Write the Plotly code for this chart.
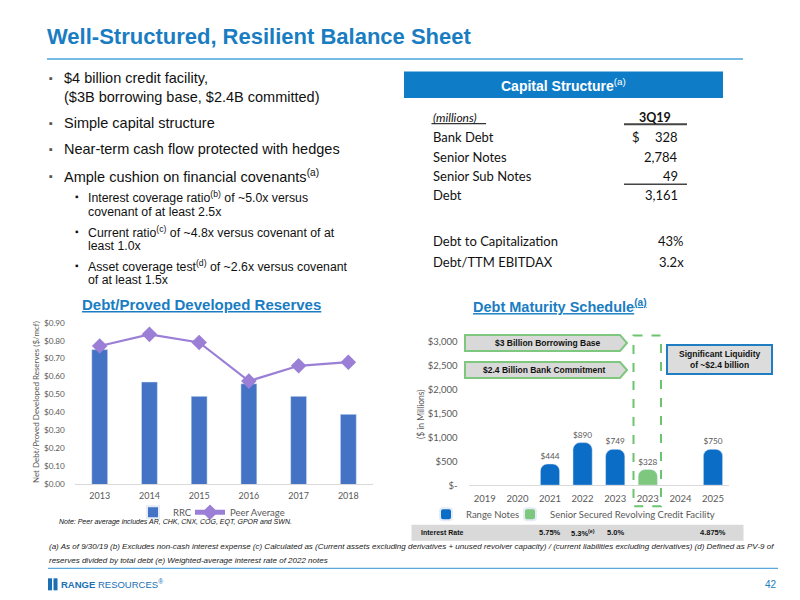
import plotly.graph_objects as go

# ---------------- data ----------------
years_left = ["2013", "2014", "2015", "2016", "2017", "2018"]
rrc_values = [0.75, 0.57, 0.49, 0.56, 0.49, 0.39]
peer_average = [0.77, 0.835, 0.79, 0.575, 0.66, 0.68]

maturity_labels = ["2019", "2020", "2021", "2022", "2023", "2023", "2024", "2025"]
range_notes = [None, None, 444, 890, 749, None, None, 750]
revolver = [None, None, None, None, None, 328, None, None]
interest_rates = ["", "", "5.75%", "5.3%<sup>(e)</sup>", "5.0%", "", "", "4.875%"]
right_tick_vals = [0, 500, 1000, 1500, 2000, 2500, 3000]
right_tick_text = ["$-", "$500", "$1,000", "$1,500", "$2,000", "$2,500", "$3,000"]

cap_labels = ["Bank Debt", "Senior Notes", "Senior Sub Notes", "Debt"]
cap_values = ["328", "2,784", "49", "3,161"]
ratio_labels = ["Debt to Capitalization", "Debt/TTM EBITDAX"]
ratio_values = ["43%", "3.2x"]

# page placement correction (figure sits inside page margins)
OFF = 8
W, H = 792, 592
VT, VK = 13.5, 0.98
def X(px):
    return (px - OFF) / W
def Y(py):
    return 1 - ((py - VT) / VK) / H

BLUE = "#1A7DC2"
GRAY = "#595959"
CAL = "Lato, 'Open Sans', sans-serif"
ARI = "Arial, 'Liberation Sans', sans-serif"
NAR = "'Liberation Sans Narrow', 'Arial Narrow', Arial, sans-serif"

fig = go.Figure()

# ---------------- left chart ----------------
fig.add_trace(go.Bar(x=years_left, y=rrc_values, name="RRC", marker_color="#4472C4",
                     width=0.32, xaxis="x", yaxis="y", legend="legend"))
fig.add_trace(go.Scatter(x=years_left, y=peer_average, name="Peer Average", mode="lines+markers",
                         line=dict(color="#9B7FD6", width=2.2),
                         marker=dict(symbol="diamond", size=12, color="#9B7FD6"),
                         xaxis="x", yaxis="y", legend="legend3"))

# ---------------- right chart ----------------
rn_x = [i for i, v in enumerate(range_notes) if v is not None]
rn_y = [v for v in range_notes if v is not None]
rv_x = [i for i, v in enumerate(revolver) if v is not None]
rv_y = [v for v in revolver if v is not None]
fig.add_trace(go.Bar(x=rn_x, y=rn_y, name="Range Notes", marker_color="#0B6DC6",
                     marker_cornerradius=7, width=0.59,
                     texttemplate="$%{y:,}", textposition="outside",
                     textfont=dict(family=CAL, size=8.5, color=GRAY), cliponaxis=False,
                     xaxis="x2", yaxis="y2", legend="legend2"))
fig.add_trace(go.Bar(x=rv_x, y=rv_y, name="Senior Secured Revolving Credit Facility",
                     marker_color="#7DC77F", marker_cornerradius=7, width=0.59,
                     texttemplate="$%{y:,}", textposition="outside",
                     textfont=dict(family=CAL, size=8.5, color=GRAY), cliponaxis=False,
                     xaxis="x2", yaxis="y2", legend="legend4"))

shapes = []
ann = []

def text(x, y, t, size, color="#111", family=ARI, xanchor="left", yanchor="middle", **kw):
    ann.append(dict(x=X(x), y=Y(y), xref="paper", yref="paper", text=t, showarrow=False,
                    xanchor=xanchor, yanchor=yanchor, font=dict(size=size, color=color, family=family), **kw))

def line(x0, y0, x1, y1, color, width, dash="solid"):
    shapes.append(dict(type="line", xref="paper", yref="paper", x0=X(x0), y0=Y(y0), x1=X(x1), y1=Y(y1),
                       line=dict(color=color, width=width, dash=dash)))

def rect(x0, y0, x1, y1, fill, lcolor=None, lwidth=0, dash="solid"):
    shapes.append(dict(type="rect", xref="paper", yref="paper", x0=X(x0), y0=Y(y0), x1=X(x1), y1=Y(y1),
                       fillcolor=fill, line=dict(color=lcolor or "rgba(0,0,0,0)", width=lwidth, dash=dash)))

# title
text(45, 36, "<b>Well-Structured, Resilient Balance Sheet</b>", 22, BLUE)
line(47, 58.5, 743, 58.5, "#4AA3DA", 1.5)

# bullets
bullets = [
    (77, "$4 billion credit facility,", True),
    (96, "($3B borrowing base, $2.4B committed)", False),
    (122, "Simple capital structure", True),
    (148.5, "Near-term cash flow protected with hedges", True),
    (175, "Ample cushion on financial covenants<sup>(a)</sup>", True),
]
for y, t, b in bullets:
    if b:
        text(47, y, "▪", 11, "#555")
    text(62, y, t, 14.5, "#111")
sub = [
    (196, "Interest coverage ratio<sup>(b)</sup> of ~5.0x versus", True),
    (211, "covenant of at least 2.5x", False),
    (231, "Current ratio<sup>(c)</sup> of ~4.8x versus covenant of at", True),
    (245.5, "least 1.0x", False),
    (265, "Asset coverage test<sup>(d)</sup> of ~2.6x versus covenant", True),
    (279.5, "of at least 1.5x", False),
]
for y, t, b in sub:
    if b:
        text(73, y, "▪", 10, "#111")
    text(86, y, t, 12.3, "#111")

# capital structure box
rect(404, 71, 723, 97.5, "#0E7CC6")
text(563, 84.5, "<b>Capital Structure</b><sup>(a)</sup>", 14, "white", xanchor="center")
text(431, 116.5, "<i>(millions)</i>", 12, "#111", family=CAL)
line(431.5, 123, 486, 123, "#333", 1.3)
text(655, 116.5, "<b>3Q19</b>", 12.5, "#111", family=CAL, xanchor="center")
line(624, 123.5, 687, 123.5, "#444", 2)
cap_y = [136.5, 156, 175, 194.5]
for i, (lab, val) in enumerate(zip(cap_labels, cap_values)):
    text(431, cap_y[i], lab, 13, "#111", family=CAL)
    text(680, cap_y[i], val, 13, "#111", family=CAL, xanchor="right")
text(630, cap_y[0], "$", 13, "#111", family=CAL)
line(624, 183.5, 687, 183.5, "#444", 1.5)
ratio_y = [240, 261.5]
for i, (lab, val) in enumerate(zip(ratio_labels, ratio_values)):
    text(431, ratio_y[i], lab, 13, "#111", family=CAL)
    text(686, ratio_y[i], val, 13, "#111", family=CAL, xanchor="right")

# chart titles
text(201, 304, "<b><u>Debt/Proved Developed Reserves</u></b>", 15, BLUE, xanchor="center")
text(471, 305, "<b><u>Debt Maturity Schedule<sup>(a)</sup></u></b>", 14.5, BLUE)

# axis titles
text(36, 401, "Net Debt/Proved Developed Reserves ($/mcf)", 8, GRAY, family=CAL,
     xanchor="center", textangle=-90)
text(421, 413, "($ in Millions)", 8.5, GRAY, family=CAL, xanchor="center", textangle=-90)

text(57, 521, "<i>Note: Peer average includes AR, CHK, CNX, COG, EQT, GPOR and SWN.</i>", 7, "#111")

# arrows
def arrow(x0, x1, xt, y0, y1, label, cx):
    ym = (y0 + y1) / 2
    path = f"M {X(x0)},{Y(y0)} L {X(x1)},{Y(y0)} L {X(xt)},{Y(ym)} L {X(x1)},{Y(y1)} L {X(x0)},{Y(y1)} Z"
    shapes.append(dict(type="path", xref="paper", yref="paper", path=path, fillcolor="#D9D9D9",
                       line=dict(color="#7DC77F", width=2)))
    text(cx, ym, f"<b>{label}</b>", 8.5, "#111", xanchor="center")

arrow(465, 620, 627, 334, 350, "$3 Billion Borrowing Base", 548)
arrow(465, 620, 627, 361, 377, "$2.4 Billion Bank Commitment", 544)
rect(633.5, 334.5, 661, 505, "rgba(0,0,0,0)", "#6CC46F", 2, "dash")
rect(667, 344, 772, 373, "#DCDCDC", "#1F7EC2", 2)
text(719.5, 358.5, "<b>Significant Liquidity<br>of ~$2.4 billion</b>", 8.5, "#111", xanchor="center")

# interest rate row
rect(411.5, 523.5, 743.5, 539.5, "#D9D9D9")
text(419, 531.5, "<b>Interest Rate</b>", 7, "#111")
for i, r in enumerate(interest_rates):
    if r:
        ann.append(dict(x=i, y=Y(531.5), xref="x2", yref="paper", text=f"<b>{r}</b>", showarrow=False,
                        xanchor="center", yanchor="middle", font=dict(size=7.5, color="#111", family=NAR)))

# footnotes
text(47, 545, "<i>(a) As of 9/30/19 (b) Excludes non-cash interest expense (c) Calculated as (Current assets excluding derivatives + unused revolver capacity) / (current liabilities excluding derivatives) (d) Defined as PV-9 of</i>", 8, "#222", family=NAR)
text(47, 559, "<i>reserves divided by total debt (e) Weighted-average interest rate of 2022 notes</i>", 8, "#222", family=NAR)
line(48, 567, 778, 567, "#5AA8DC", 1.2)

# logo & page number
rect(48, 577, 52, 589, "#1A6FB5")
rect(53.5, 577, 57.5, 589, "#1A6FB5")
text(59, 583, "<b>RANGE</b> RESOURCES<sup>®</sup>", 9.5, "#1A6FB5")
text(779, 583, "42", 10, BLUE, xanchor="right")

def legend_at(text_start, ymid, size):
    return dict(orientation="h", x=X(text_start - 40), y=Y(ymid), xanchor="left", yanchor="middle",
                font=dict(family=CAL, size=size, color=GRAY), bgcolor="rgba(0,0,0,0)",
                itemsizing="constant", itemwidth=30)

fig.update_layout(
    width=W, height=H, margin=dict(l=0, r=0, t=0, b=0),
    paper_bgcolor="white", plot_bgcolor="white", barmode="overlay",
    xaxis=dict(domain=[X(74.85), X(373.2)], range=[-0.5, 5.5], type="category", showgrid=False,
               showline=True, linecolor="#D9D9D9", linewidth=1, ticks="",
               tickfont=dict(family=CAL, size=9, color=GRAY), ticklabelstandoff=3, anchor="y"),
    yaxis=dict(domain=[Y(483.3), Y(321.7)], range=[0, 0.9], dtick=0.1, tickformat="$.2f",
               showgrid=False, zeroline=False, showline=False,
               tickfont=dict(family=CAL, size=8.2, color=GRAY), ticklabelstandoff=9, anchor="x"),
    xaxis2=dict(domain=[X(468.5), X(729.3)], range=[-0.5, 7.5], tickvals=list(range(len(maturity_labels))),
                ticktext=maturity_labels,
                showgrid=False, showline=True, linecolor="#D9D9D9", linewidth=1, zeroline=False,
                tickfont=dict(family=CAL, size=9.5, color=GRAY), ticklabelstandoff=4, anchor="y2"),
    yaxis2=dict(domain=[Y(484), Y(340.7)], range=[0, 3000], tickvals=right_tick_vals, ticktext=right_tick_text,
                showgrid=False, zeroline=False, showline=False,
                tickfont=dict(family=CAL, size=9.5, color=GRAY), ticklabelstandoff=10, anchor="x2"),
    legend=legend_at(173, 511, 9.5),
    legend3=legend_at(230, 511, 9.5),
    legend2=legend_at(466, 513, 9.5),
    legend4=legend_at(550, 513, 9.5),
    shapes=shapes, annotations=ann, showlegend=True,
)

fig.write_html("out.html")
